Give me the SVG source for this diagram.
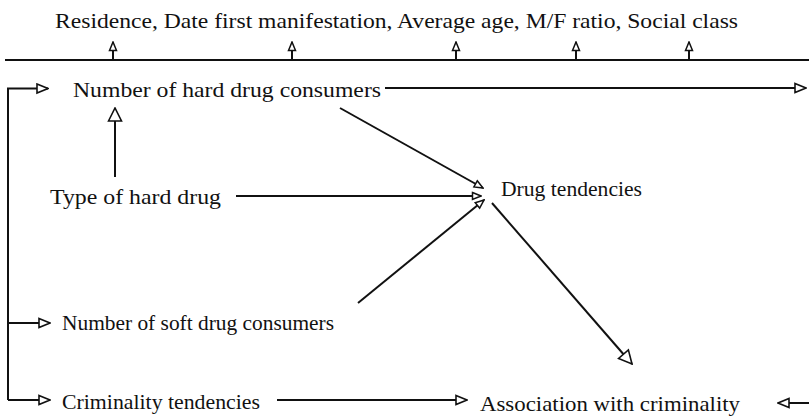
<svg xmlns="http://www.w3.org/2000/svg" width="809" height="416" viewBox="0 0 809 416">
<style>
text{font-family:"Liberation Serif","Times New Roman",serif;font-size:21px;fill:#111}
.c{stroke:#111;stroke-width:2;fill:none}
</style>
<defs>
<marker id="a" markerUnits="userSpaceOnUse" viewBox="-1 -1 14 12" markerWidth="14" markerHeight="12" refX="12" refY="5" orient="auto">
<path d="M1,0.5 L12,5 L1,9.5 Z" fill="#fff" stroke="#111" stroke-width="1.6"/>
</marker>
<marker id="s" markerUnits="userSpaceOnUse" viewBox="-1 -1 11 10" markerWidth="11" markerHeight="10" refX="9" refY="4" orient="auto">
<path d="M0.5,0.5 L9,4 L0.5,7.5 Z" fill="#fff" stroke="#111" stroke-width="1.5"/>
</marker>
<marker id="b" markerUnits="userSpaceOnUse" viewBox="-1 -1 16 16" markerWidth="16" markerHeight="16" refX="14" refY="7" orient="auto">
<path d="M1,0.5 L14,7 L1,13.5 Z" fill="#fff" stroke="#111" stroke-width="1.6"/>
</marker>
</defs>
<g id="factors"><text x="55" y="28" textLength="683" lengthAdjust="spacingAndGlyphs">Residence, Date first manifestation, Average age, M/F ratio, Social class</text></g>
<g id="hard"><text x="73" y="97" textLength="308" lengthAdjust="spacingAndGlyphs">Number of hard drug consumers</text></g>
<g id="type"><text x="50" y="204" textLength="171" lengthAdjust="spacingAndGlyphs">Type of hard drug</text></g>
<g id="drug"><text x="501" y="196" textLength="141" lengthAdjust="spacingAndGlyphs">Drug tendencies</text></g>
<g id="soft"><text x="62" y="330" textLength="272" lengthAdjust="spacingAndGlyphs">Number of soft drug consumers</text></g>
<g id="crim"><text x="62" y="409" textLength="198" lengthAdjust="spacingAndGlyphs">Criminality tendencies</text></g>
<g id="assoc"><text x="480" y="411" textLength="260" lengthAdjust="spacingAndGlyphs">Association with criminality</text></g>
<g id="connectors">
<line class="c" x1="5" y1="60" x2="809" y2="60"/>
<line class="c" x1="113" y1="60" x2="113" y2="42" marker-end="url(#s)"/>
<line class="c" x1="292" y1="60" x2="292" y2="42" marker-end="url(#s)"/>
<line class="c" x1="456" y1="60" x2="456" y2="42" marker-end="url(#s)"/>
<line class="c" x1="576" y1="60" x2="576" y2="42" marker-end="url(#s)"/>
<line class="c" x1="689" y1="60" x2="689" y2="42" marker-end="url(#s)"/>
<path class="c" d="M8,400 L8,88.5 L48,88.5" marker-end="url(#a)"/>
<line class="c" x1="8" y1="323" x2="50" y2="323" marker-end="url(#a)"/>
<line class="c" x1="8" y1="400" x2="50" y2="400" marker-end="url(#a)"/>
<line class="c" x1="385" y1="88" x2="806" y2="88" marker-end="url(#a)"/>
<line class="c" x1="115" y1="177" x2="115" y2="108" marker-end="url(#b)"/>
<line class="c" x1="340" y1="108" x2="483" y2="188" marker-end="url(#s)"/>
<line class="c" x1="236" y1="196" x2="481" y2="196" marker-end="url(#s)"/>
<line class="c" x1="358" y1="303" x2="484" y2="200" marker-end="url(#s)"/>
<line class="c" x1="492" y1="203" x2="632" y2="364" marker-end="url(#b)"/>
<line class="c" x1="277" y1="400" x2="467" y2="400" marker-end="url(#a)"/>
<line class="c" x1="809" y1="403" x2="778" y2="403" marker-end="url(#a)"/>
</g>
</svg>
